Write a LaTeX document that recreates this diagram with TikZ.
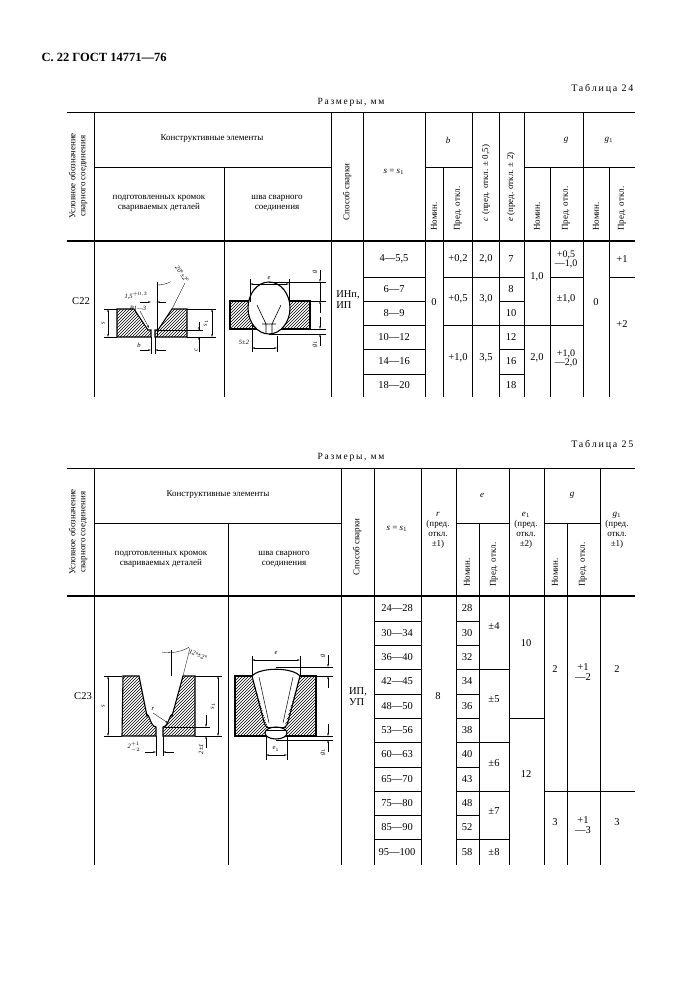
\documentclass[tikz,border=0pt]{standalone}
\usepackage{fontspec}
\setmainfont{Liberation Serif}
\newfontfamily\spacedfont[LetterSpace=18]{Liberation Serif}
\usetikzlibrary{patterns,arrows.meta}

\tikzset{
  tline/.style={line width=0.6pt},
  thk/.style={line width=1.8pt},
  hdr/.style={font=\fontsize{9}{10}\selectfont, align=center, inner sep=1pt},
  vhdr/.style={hdr, rotate=90},
  vbot/.style={hdr, rotate=90, anchor=west},
  num/.style={font=\fontsize{10.5}{11}\selectfont, align=center, inner sep=1pt},
  plate/.style={pattern=north east lines, draw, line width=1.1pt},
  dimline/.style={line width=0.35pt, {Stealth[length=3pt,width=1.6pt]}-{Stealth[length=3pt,width=1.6pt]}},
  extline/.style={line width=0.35pt},
  sk/.style={font=\itshape\fontsize{6.5}{7}\selectfont, inner sep=0.5pt},
}

\begin{document}
\begin{tikzpicture}[x=1pt, y=-1pt]
\useasboundingbox (0,0) rectangle (700,991);

\node[anchor=west, font=\bfseries\fontsize{12.5}{14}\selectfont] (title) at (38,57) {С. 22 ГОСТ 14771—76};

% ---------------- Table 24 ----------------
\node[anchor=east, font=\spacedfont\fontsize{10}{11}\selectfont] (tab24) at (637,89) {Таблица 24};
\node[font=\spacedfont\fontsize{9.5}{11}\selectfont] (size24) at (351,102) {Размеры, мм};
\draw[tline] (67,112) -- (635,112);
\draw[thk] (67,241) -- (635,241);
\draw[tline] (94,167) -- (331,167) (425,167) -- (472,167) (524,167) -- (635,167);
\foreach \x in {94,331,363,425,472,499,524,583}
  \draw[tline] (\x,112) -- (\x,397);
\foreach \x in {224,443,550,609}
  \draw[tline] (\x,167) -- (\x,397);
% row lines
\foreach \y in {277,301,325,349,374} {
  \draw[tline] (363,\y) -- (425,\y);
  \draw[tline] (499,\y) -- (524,\y);
}
\foreach \y in {277,325} \draw[tline] (443,\y) -- (499,\y);
\draw[tline] (524,325) -- (583,325);
\draw[tline] (550,277) -- (583,277);
\draw[tline] (609,277) -- (635,277);

% header
\node[vhdr] (cond24) at (78,176) {Условное обозначение\\сварного соединения};
\node[hdr] (konstr24) at (212,139) {Конструктивные элементы};
\node[hdr] (kromki24) at (159,203) {подготовленных кромок\\свариваемых деталей};
\node[hdr] (shov24) at (277,203) {шва сварного\\соединения};
\node[vhdr] (sposob24) at (347,192) {Способ сварки};
\node[hdr] (s24) at (394,172) {\textit{s} = \textit{s}$_1$};
\node[hdr] (b24) at (448,140) {\itshape b};
\node[vbot] (bnom24) at (434,232) {Номин.};
\node[vbot] (bpred24) at (458,232) {Пред. откл.};
\node[vhdr] (c24) at (486,183) {\textit{c} (пред. откл. ± 0,5)};
\node[vhdr] (e24) at (511,187) {\textit{e} (пред. откл. ± 2)};
\node[hdr] (g24) at (566,140) {\itshape g};
\node[vbot] (gnom24) at (537,232) {Номин.};
\node[vbot] (gpred24) at (566,232) {Пред. откл.};
\node[hdr] (ga24) at (609,140) {\textit{g}$_1$};
\node[vbot] (ganom24) at (596,232) {Номин.};
\node[vbot] (gapred24) at (622,232) {Пред. откл.};

% data
\node[num] (c22) at (81,301) {С22};
\node[num, align=left] (ipr24) at (348,300) {ИНп,\\ИП};
\foreach \y/\t [count=\i] in {259/{4—5,5}, 289/6—7, 313/8—9, 337/10—12, 361.5/14—16, 385.5/18—20}
  \node[num] (srow24-\i) at (394,\y) {\t};
\node[num] (bn24) at (434,302) {0};
\node[num] (bp24a) at (458,259) {+0,2};
\node[num] (bp24b) at (458,299) {+0,5};
\node[num] (bp24c) at (458,358) {+1,0};
\node[num] (c24a) at (486,259) {2,0};
\node[num] (c24b) at (486,299) {3,0};
\node[num] (c24c) at (486,358) {3,5};
\foreach \y/\t [count=\i] in {259/7, 289/8, 313/10, 337/12, 361.5/16, 385.5/18}
  \node[num] (erow24-\i) at (511,\y) {\t};
\node[num] (gn24a) at (537,277) {1,0};
\node[num] (gn24b) at (537,358) {2,0};
\node[num, font=\fontsize{10}{9}\selectfont] (gp24a) at (566,259) {+0,5\\—1,0};
\node[num] (gp24b) at (566,299) {±1,0};
\node[num, font=\fontsize{10}{9}\selectfont] (gp24c) at (566,358) {+1,0\\—2,0};
\node[num] (gan24) at (596,302) {0};
\node[num] (gap24a) at (622,259) {+1};
\node[num] (gap24b) at (622,324) {+2};

% sketch: prepared edges C22
\draw[plate] (117,309) -- (134,309) -- (148,330) -- (151,330) -- (151,337) -- (117,337) -- cycle;
\draw[plate] (155,337) -- (155,330) -- (158,330) -- (172,309) -- (187,309) -- (187,337) -- cycle;
\draw[extline] (117,309) -- (104,309) (117,337) -- (104,337);
\draw[dimline] (108,309) -- (108,337);
\node[sk, rotate=90] (ls24) at (103,323) {s};
\draw[extline] (187,309) -- (216,309) (187,337) -- (216,337) (158,330) -- (203,330);
\draw[dimline] (212,309) -- (212,337);
\node[sk, rotate=90] (ls124) at (206,323) {s$_1$};
\draw[extline] (199,322) -- (199,330) (199,337) -- (199,352);
\draw[extline, -{Stealth[length=3pt,width=1.6pt]}] (199,322) -- (199,330);
\draw[extline, -{Stealth[length=3pt,width=1.6pt]}] (199,346) -- (199,337);
\node[sk, rotate=90] (lc24) at (196,350) {c};
\draw[extline] (151,337) -- (151,354) (155,337) -- (155,354) (157,282) -- (157,337);
\draw[extline, -{Stealth[length=3pt,width=1.6pt]}] (140,350) -- (151,350);
\draw[extline, -{Stealth[length=3pt,width=1.6pt]}] (166,350) -- (155,350);
\node[sk] (lb24) at (139,345) {b};
\draw[extline] (172,309) -- (185,283);
\draw[extline] (157,285) arc[start angle=90, end angle=63, radius=30];
\node[sk, rotate=-55] (lang24) at (182,274) {20°±2°};
\draw[extline, -{Stealth[length=3pt,width=1.6pt]}] (140,302) -- (151,302);
\draw[extline, -{Stealth[length=3pt,width=1.6pt]}] (166,302) -- (157,302);
\node[sk] (lroot24) at (136,296) {1,5$^{+0,3}$};
\draw[extline, -{Stealth[length=3pt,width=1.6pt]}] (140,311) -- (149,328);
\node[sk] (lr24) at (138,308) {R1—3};

% sketch: weld C22
\draw[plate] (230,301) rectangle (310,329);
\fill[white] (269,308) ellipse[x radius=21, y radius=26];
\draw[line width=1.1pt] (269,308) ellipse[x radius=21, y radius=26];
\draw[line width=0.6pt] (257,305) -- (266,324) -- (266,333) (281,305) -- (272,324) -- (272,333) (262,324) -- (276,324);
\draw[extline] (250,302) -- (250,279) (289,302) -- (289,279);
\draw[dimline] (250,284) -- (289,284);
\node[sk] (le24) at (269,278) {e};
\draw[extline] (269,282) -- (326,282) (310,301) -- (326,301) (310,329) -- (326,329) (269,334) -- (326,334);
\draw[extline, -{Stealth[length=3pt,width=1.6pt]}] (320,270) -- (320,282);
\draw[extline, -{Stealth[length=3pt,width=1.6pt]}] (320,313) -- (320,301);
\draw[extline] (320,282) -- (320,301);
\node[sk, rotate=90] (lg24) at (315,272) {g};
\draw[extline, -{Stealth[length=3pt,width=1.6pt]}] (320,317) -- (320,329);
\draw[extline, -{Stealth[length=3pt,width=1.6pt]}] (320,346) -- (320,334);
\node[sk, rotate=90] (lg124) at (315,344) {g$_1$};
\draw[extline] (252,325) -- (252,352) (277,336) -- (277,352);
\draw[dimline] (252,348) -- (277,348);
\node[sk] (lw24) at (244,342) {5±2};

% ---------------- Table 25 ----------------
\node[anchor=east, font=\spacedfont\fontsize{10}{11}\selectfont] (tab25) at (637,445) {Таблица 25};
\node[font=\spacedfont\fontsize{9.5}{11}\selectfont] (size25) at (351,457) {Размеры, мм};
\draw[tline] (67,468) -- (635,468);
\draw[thk] (67,596) -- (635,596);
\draw[tline] (94,523) -- (341,523) (456,523) -- (509,523) (544,523) -- (600,523);
\foreach \x in {94,341,374,421,456,509,544,600}
  \draw[tline] (\x,468) -- (\x,865);
\foreach \x in {228,479,567}
  \draw[tline] (\x,523) -- (\x,865);
\foreach \y in {621,645,669,694,718,742,767,791,815,839} {
  \draw[tline] (374,\y) -- (421,\y);
  \draw[tline] (456,\y) -- (479,\y);
}
\foreach \y in {669,742,791,839} \draw[tline] (479,\y) -- (509,\y);
\draw[tline] (509,718) -- (544,718);
\draw[tline] (544,791) -- (635,791);

% header
\node[vhdr] (cond25) at (78,532) {Условное обозначение\\сварного соединения};
\node[hdr] (konstr25) at (218,495) {Конструктивные элементы};
\node[hdr] (kromki25) at (161,559) {подготовленных кромок\\свариваемых деталей};
\node[hdr] (shov25) at (284,559) {шва сварного\\соединения};
\node[vhdr] (sposob25) at (357,547) {Способ сварки};
\node[hdr] (s25) at (397,529) {\textit{s} = \textit{s}$_1$};
\node[hdr] (r25) at (438,530) {\textit{r}\\(пред.\\откл.\\±1)};
\node[hdr] (e25) at (482,495) {\itshape e};
\node[vbot] (enom25) at (467,588) {Номин.};
\node[vbot] (epred25) at (494,588) {Пред. откл.};
\node[hdr] (ea25) at (526,530) {\textit{e}$_1$\\(пред.\\откл.\\±2)};
\node[hdr] (g25) at (572,495) {\itshape g};
\node[vbot] (gnom25) at (555,588) {Номин.};
\node[vbot] (gpred25) at (583,588) {Пред. откл.};
\node[hdr] (ga25) at (617,530) {\textit{g}$_1$\\(пред.\\откл.\\±1)};

% data
\node[num] (c23) at (83,696) {С23};
\node[num, align=left] (ipr25) at (358,697) {ИП,\\УП};
\foreach \y/\s/\e [count=\i] in {608.5/24—28/28, 633/30—34/30, 657/36—40/32, 681.5/42—45/34, 706/48—50/36, 730/53—56/38, 754.5/60—63/40, 779/65—70/43, 803/75—80/48, 827/85—90/52, 852/95—100/58} {
  \node[num] (srow25-\i) at (397,\y) {\s};
  \node[num] (erow25-\i) at (467,\y) {\e};
}
\node[num] (r25v) at (438,696) {8};
\node[num] (ep25a) at (494,626) {±4};
\node[num] (ep25b) at (494,699) {±5};
\node[num] (ep25c) at (494,763) {±6};
\node[num] (ep25d) at (494,811) {±7};
\node[num] (ep25e) at (494,852) {±8};
\node[num] (ea25a) at (526,643) {10};
\node[num] (ea25b) at (526,774) {12};
\node[num] (gn25a) at (555,669) {2};
\node[num, font=\fontsize{10.5}{10}\selectfont] (gp25a) at (583,672) {+1\\—2};
\node[num] (gan25a) at (617,669) {2};
\node[num] (gn25b) at (555,822) {3};
\node[num, font=\fontsize{10.5}{10}\selectfont] (gp25b) at (583,825) {+1\\—3};
\node[num] (gan25b) at (617,822) {3};

% sketch: prepared edges C23
\draw[plate] (123,676) -- (139,676) -- (147,716) to[out=75, in=180] (156,727) -- (156,736) -- (122,736) -- cycle;
\draw[plate] (163,736) -- (163,727) to[out=0, in=105] (172,716) -- (183,676) -- (195,676) -- (195,736) -- cycle;
\draw[extline] (122,676) -- (104,676) (122,736) -- (104,736);
\draw[dimline] (108,676) -- (108,736);
\node[sk, rotate=90] (ls25) at (103,706) {s};
\draw[extline] (195,676) -- (222,676) (195,736) -- (222,736) (165,727) -- (210,727);
\draw[dimline] (218,676) -- (218,736);
\node[sk, rotate=90] (ls125) at (213,706) {s$_1$};
\draw[extline, -{Stealth[length=3pt,width=1.6pt]}] (206,715) -- (206,727);
\draw[extline, -{Stealth[length=3pt,width=1.6pt]}] (206,748) -- (206,736);
\node[sk, rotate=90] (lc25) at (201,749) {2±1};
\draw[extline] (156,736) -- (156,756) (163,736) -- (163,756) (171,650) -- (171,676);
\draw[extline, -{Stealth[length=3pt,width=1.6pt]}] (145,752) -- (156,752);
\draw[extline, -{Stealth[length=3pt,width=1.6pt]}] (174,752) -- (163,752);
\node[sk] (lb25) at (134,747) {2$^{+1}_{-2}$};
\draw[extline] (183,676) -- (190,648);
\draw[extline] (162,652) arc[start angle=100, end angle=60, radius=40];
\node[sk, rotate=-20] (lang25) at (198,655) {12°±2°};
\draw[extline, -{Stealth[length=3pt,width=1.6pt]}] (153,713) -- (168,723);
\node[sk] (lr25) at (153,709) {r};

% sketch: weld C23
\draw[plate] (235,676) rectangle (316,736);
\fill[white] (252,676) .. controls (260,667) and (292,667) .. (300,676) -- (284,728) -- (268,728) -- cycle;
\draw[line width=1.1pt] (252,676) .. controls (260,667) and (292,667) .. (300,676);
\draw[line width=1.1pt] (252,676) -- (264,722) to[out=-75, in=180] (270,728);
\draw[line width=1.1pt] (300,676) -- (288,722) to[out=-105, in=0] (282,728);
\draw[line width=0.5pt] (259,677) -- (269,723) (293,677) -- (283,723);
\fill[white] (276,733) ellipse[x radius=11, y radius=6];
\draw[line width=1.1pt] (276,733) ellipse[x radius=11, y radius=6];
\draw[line width=0.5pt] (266,727) -- (286,727) (266,730) -- (286,730);
\draw[extline] (252,676) -- (252,656) (300,676) -- (300,656);
\draw[dimline] (252,660) -- (300,660);
\node[sk] (le25) at (276,653) {e};
\draw[extline] (276,667) -- (333,667) (316,676) -- (333,676) (316,736) -- (333,736) (276,740) -- (333,740);
\draw[extline, -{Stealth[length=3pt,width=1.6pt]}] (328,655) -- (328,667);
\draw[extline, -{Stealth[length=3pt,width=1.6pt]}] (328,688) -- (328,676);
\node[sk, rotate=90] (lg25) at (323,656) {g};
\draw[extline, -{Stealth[length=3pt,width=1.6pt]}] (328,724) -- (328,736);
\draw[extline, -{Stealth[length=3pt,width=1.6pt]}] (328,752) -- (328,740);
\node[sk, rotate=90] (lg125) at (323,752) {g$_1$};
\draw[extline] (266,736) -- (266,760) (287,736) -- (287,760);
\draw[dimline] (266,755) -- (287,755);
\node[sk] (lea25) at (276,749) {e$_1$};
\end{tikzpicture}
\end{document}
